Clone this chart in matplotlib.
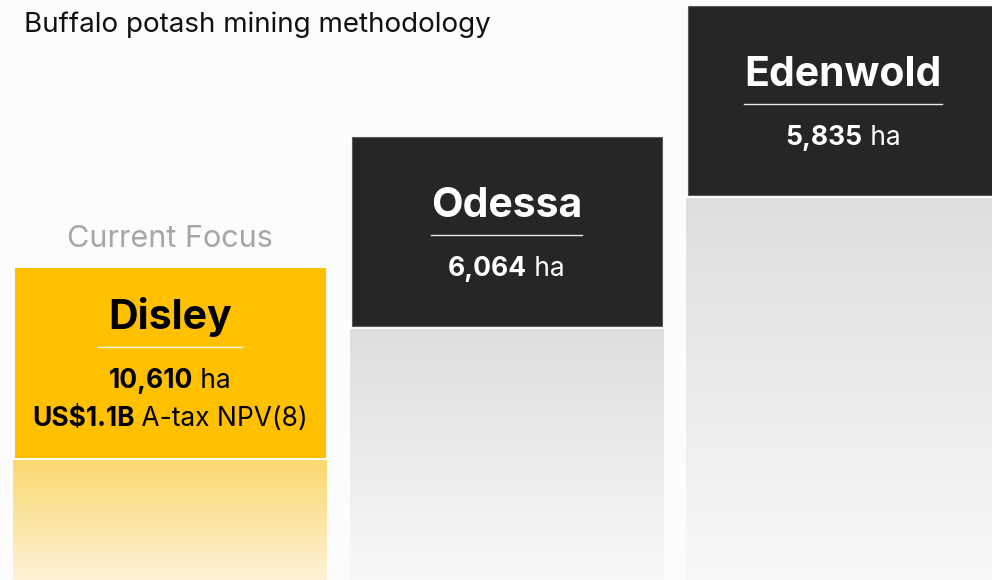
import matplotlib.pyplot as plt
import numpy as np
from matplotlib.colors import LinearSegmentedColormap

# project areas, left to right (staircase)
names = ["Disley", "Odessa", "Edenwold"]
areas_ha = ["10,610", "6,064", "5,835"]
npv_bold = ["US$1.1B", None, None]
npv_rest = [" A-tax NPV(8)", None, None]
current = [True, False, False]
header = "Buffalo potash mining methodology"

W, H = 992, 580
plt.rcParams["font.family"] = ["Inter", "DejaVu Sans"]

fig = plt.figure(figsize=(W / 100, H / 100), dpi=100)
fig.patch.set_facecolor("#fcfcfc")
ax = fig.add_axes([0, 0, 1, 1])
ax.set_xlim(0, W)
ax.set_ylim(H, 0)
ax.axis("off")
renderer = fig.canvas.get_renderer()


def mixed(x, y, parts, color, size):
    # bold + regular pieces, centred on x as one line
    objs = []
    for s, w in parts:
        objs.append(ax.text(0, y, s, fontsize=size, fontweight=w, color=color,
                            ha="left", va="baseline", zorder=3))
    widths = [t.get_window_extent(renderer).width for t in objs]
    x0 = x - sum(widths) / 2.0
    for t, w in zip(objs, widths):
        t.set_x(x0)
        x0 += w


ax.text(24, 32, header, fontsize=20, color="#111111", ha="left", va="baseline")

step_x = 336.5
step_y = 131
box_w = 310
box_h = 189
first_left = 15
first_top = 268

for i, name in enumerate(names):
    left = first_left + i * step_x
    top = first_top - i * step_y
    cx = left + box_w / 2.0
    if current[i]:
        face, txt, edge = "#ffc000", "#000000", "#ffc000"
        grad = ["#fbd86f", "#fdf2d6"]
    else:
        face, txt, edge = "#262626", "#ffffff", "#5a5a5a"
        grad = ["#dedede", "#f8f8f8"]

    ax.bar(cx, box_h, bottom=top, width=box_w, color=face, edgecolor=edge,
           linewidth=0.8, zorder=2)

    # fading column under the box
    gtop = top + box_h + 3
    cmap = LinearSegmentedColormap.from_list("g%d" % i, grad)
    ax.imshow(np.linspace(0, 1, 256).reshape(-1, 1), cmap=cmap, aspect="auto",
              extent=[left - 2, left + box_w + 2, H, gtop], zorder=1)

    n_info = 1 + (npv_bold[i] is not None)
    shift = (n_info - 1) * 19
    t = ax.text(cx, top + 80 - shift, name, fontsize=29.5, fontweight="bold",
                color=txt, ha="center", va="baseline", zorder=3)
    tw = t.get_window_extent(renderer).width
    half = max(tw, 144) / 2.0
    ax.plot([cx - half, cx + half], [top + 98 - shift] * 2, color="#ffffff",
            lw=1.0, alpha=0.9, zorder=3)
    mixed(cx, top + 139 - shift, [(areas_ha[i], "bold"), (" ha", "normal")], txt, 19)
    if npv_bold[i] is not None:
        mixed(cx, top + 177 - shift, [(npv_bold[i], "bold"), (npv_rest[i], "normal")], txt, 19)
    if current[i]:
        ax.text(cx, top - 21, "Current Focus", fontsize=22, color="#a6a6a6",
                ha="center", va="baseline")

ax.set_xlim(0, W)
ax.set_ylim(H, 0)
fig.savefig("out.png", dpi=100, facecolor=fig.get_facecolor())
plt.close(fig)
